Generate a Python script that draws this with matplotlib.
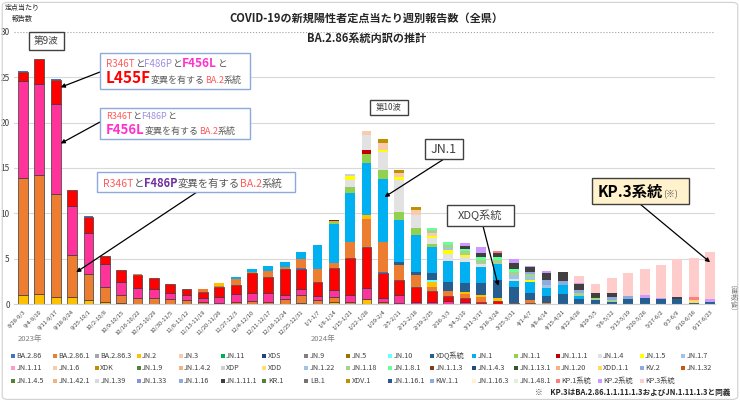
import numpy as np
import matplotlib.pyplot as plt
from matplotlib.patches import Rectangle, FancyBboxPatch

plt.rcParams['font.family'] = ['Noto Sans CJK JP', 'DejaVu Sans']

# week labels
weeks = ["8/28-9/3", "9/4-9/10", "9/11-9/17", "9/18-9/24", "9/25-10/1", "10/2-10/8",
         "10/9-10/15", "10/16-10/22", "10/23-10/29", "10/30-11/5", "11/6-11/12",
         "11/13-11/19", "11/20-11/26", "11/27-12/3", "12/4-12/10", "12/11-12/17",
         "12/18-12/24", "12/25-12/31",
         "1/1-1/7", "1/8-1/14", "1/15-1/21", "1/22-1/28", "1/29-2/4", "2/5-2/11",
         "2/12-2/18", "2/19-2/25", "2/26-3/3", "3/4-3/10", "3/11-3/17", "3/18-3/24",
         "3/25-3/31", "4/1-4/7", "4/8-4/14", "4/15-4/21", "4/22-4/28", "4/29-5/5",
         "5/6-5/12", "5/13-5/19", "5/20-5/26", "5/27-6/2", "6/3-6/9", "6/10-6/16",
         "6/17-6/23"]

# BA.2 (XBB etc.) groups, not in legend
xbb_other = [1.0, 1.1, 0.8, 0.8, 0.4, 0.2, 0.1, 0.05, 0.05, 0.05, 0, 0, 0, 0, 0, 0, 0, 0.1,
             0, 0.2, 0, 0.5, 0, 0, 0, 0, 0, 0, 0, 0, 0, 0, 0, 0, 0, 0, 0, 0, 0, 0, 0, 0, 0]
xbb_r346t = [12.9, 13.1, 11.3, 4.65, 2.87, 1.7, 0.9, 0.65, 0.57, 0.5, 0.44, 0.2, 0.1, 0.2, 0.33, 0.27, 0.5, 0.9,
             0.44, 0.6, 0.2, 0, 0.2, 0.1, 0, 0, 0, 0, 0, 0, 0, 0, 0, 0, 0, 0, 0, 0, 0, 0, 0, 0, 0]
xbb_f456l = [10.7, 10.1, 10.0, 5.35, 4.58, 2.47, 1.4, 1.02, 1.0, 0.63, 0.52, 0.46, 0.67, 0.87, 0.92, 0.98, 0.53, 0.62,
             0.44, 0.74, 0.8, 1.22, 0.42, 0.9, 0.26, 0.26, 0.37, 0.26, 0, 0, 0, 0, 0, 0, 0, 0, 0, 0, 0, 0, 0, 0, 0]
xbb_l455f = [1.0, 2.7, 2.65, 1.8, 1.75, 0.88, 1.4, 1.48, 1.2, 1.08, 0.66, 0.66, 1.1, 1.03, 2.12, 1.75, 2.82, 2.2,
             1.58, 2.39, 4.03, 4.52, 2.76, 1.64, 1.64, 1.21, 0.55, 0.36, 0.26, 0.3, 0.15, 0.1, 0.05, 0, 0, 0, 0, 0, 0, 0, 0, 0, 0]

# BA.2.86 lineages
ba286 = [0.1, 0, 0.1, 0, 0.15, 0, 0, 0, 0, 0, 0, 0, 0, 0, 0, 0, 0, 0.11,
         0, 0, 0, 0, 0.18, 0, 0, 0, 0, 0, 0, 0, 0, 0, 0, 0, 0, 0, 0, 0, 0, 0, 0, 0, 0]
ba2861 = [0, 0, 0, 0, 0, 0, 0, 0.07, 0, 0, 0, 0.33, 0.13, 0.62, 0.18, 0.63, 0.25, 1.0,
          1.36, 0.57, 1.83, 3.08, 3.3, 1.66, 1.3, 0.43, 0.55, 0.5, 0.5, 0, 0, 0.34, 0.1, 0, 0, 0, 0, 0, 0, 0, 0, 0, 0]
jn2 = [0, 0, 0, 0, 0, 0, 0, 0, 0, 0, 0, 0, 0.28, 0, 0, 0, 0, 0,
       0, 0, 0, 0.48, 0, 0, 0, 0.56, 0, 0.24, 0.23, 0.32, 0, 0, 0, 0, 0, 0, 0, 0, 0, 0, 0, 0, 0]
jn10 = [0, 0, 0, 0, 0, 0, 0, 0, 0, 0, 0, 0, 0, 0, 0, 0, 0, 0,
        0, 0, 0, 0, 0, 0, 0, 0.23, 0, 0, 0, 0, 0, 0, 0, 0, 0, 0, 0, 0, 0, 0, 0, 0, 0]
xdq = [0, 0, 0, 0, 0, 0, 0, 0, 0, 0, 0, 0, 0, 0, 0, 0, 0, 0,
       0, 0, 0, 0, 0, 0.29, 0.36, 0.74, 0.92, 0.92, 1.29, 2.02, 1.76, 0.81, 0.73,
       1.1, 0.51, 0.44, 0.26, 0.51, 0.62, 0.51, 0.51, 0.15, 0.26]
jn1 = [0, 0, 0, 0, 0, 0, 0, 0, 0, 0, 0, 0, 0, 0.22, 0.3, 0.55, 0.52, 0.84,
       2.68, 4.3, 5.33, 5.76, 6.98, 4.66, 4.04, 2.82, 2.39, 2.4, 1.83, 1.76, 0.66, 1.21, 0.85,
       1.0, 0.37, 0, 0, 0, 0, 0, 0, 0, 0]
jn11 = [0, 0, 0, 0, 0, 0, 0, 0, 0, 0, 0, 0, 0, 0, 0, 0, 0, 0,
        0, 0.3, 0.66, 0.96, 0.92, 0.92, 0.74, 0.35, 0, 0, 0, 0, 0, 0, 0, 0, 0, 0, 0, 0, 0, 0, 0, 0, 0]
jn111 = [0, 0, 0, 0, 0, 0, 0, 0, 0, 0, 0, 0, 0, 0, 0, 0, 0, 0,
         0, 0.15, 0, 0.44, 0, 0, 0, 0, 0, 0, 0, 0, 0, 0, 0, 0, 0, 0, 0, 0, 0, 0, 0, 0, 0]
jn14 = [0, 0, 0, 0, 0, 0, 0, 0, 0, 0, 0, 0, 0, 0, 0, 0, 0, 0,
        0, 0, 0.81, 1.64, 2.02, 3.49, 1.46, 0.7, 0.72, 0.52, 0.25, 0, 0.2, 0, 0, 0, 0, 0, 0, 0, 0, 0, 0, 0, 0]
jn15 = [0, 0, 0, 0, 0, 0, 0, 0, 0, 0, 0, 0, 0, 0, 0, 0, 0, 0,
        0, 0, 0.44, 0, 0.18, 0.33, 0, 0.25, 0.45, 0.15, 0, 0, 0, 0.2, 0, 0, 0, 0, 0, 0, 0, 0, 0, 0, 0]
jn16 = [0, 0, 0, 0, 0, 0, 0, 0, 0, 0, 0, 0, 0, 0, 0, 0, 0, 0,
        0, 0, 0, 0.45, 0.81, 0.5, 0.6, 0.3, 0, 0, 0, 0, 0, 0, 0, 0, 0, 0, 0, 0, 0, 0, 0, 0, 0]
xdk = [0, 0, 0, 0, 0, 0, 0, 0, 0, 0, 0, 0, 0, 0, 0, 0, 0, 0,
       0, 0, 0, 0, 0.48, 0.3, 0.32, 0, 0, 0, 0, 0, 0, 0, 0, 0, 0, 0, 0, 0, 0, 0, 0, 0, 0]
xdp = [0, 0, 0, 0, 0, 0, 0, 0, 0, 0, 0, 0, 0, 0, 0, 0, 0, 0,
       0, 0, 0.29, 0, 0, 0, 0, 0, 0, 0, 0, 0, 0, 0, 0, 0, 0, 0, 0, 0, 0, 0, 0, 0, 0]
jn1_22 = [0, 0, 0, 0, 0, 0, 0, 0, 0, 0, 0, 0, 0, 0, 0, 0, 0, 0,
          0, 0, 0, 0, 0, 0, 0, 0, 0.2, 0, 0, 0, 0.4, 0.3, 0.41, 0, 0, 0, 0, 0, 0, 0, 0, 0, 0]
jn1_18 = [0, 0, 0, 0, 0, 0, 0, 0, 0, 0, 0, 0, 0, 0, 0, 0, 0, 0,
          0, 0, 0, 0, 0, 0, 0, 0.3, 0.35, 0.45, 0.45, 0.4, 0.35, 0.3, 0, 0, 0.3, 0.22, 0.2, 0, 0, 0, 0, 0, 0]
jn1_8_1 = [0, 0, 0, 0, 0, 0, 0, 0, 0, 0, 0, 0, 0, 0, 0, 0, 0, 0,
           0, 0, 0, 0, 0, 0, 0, 0.25, 0.3, 0.23, 0.4, 0.4, 0.3, 0, 0, 0, 0, 0, 0, 0, 0, 0, 0, 0, 0]
jn1_13_1 = [0, 0, 0, 0, 0, 0, 0, 0, 0, 0, 0, 0, 0, 0, 0, 0, 0, 0,
            0, 0, 0, 0, 0, 0, 0, 0, 0, 0, 0, 0, 0, 0, 0, 0, 0, 0.15, 0, 0, 0, 0, 0, 0, 0]
xdd11 = [0, 0, 0, 0, 0, 0, 0, 0, 0, 0, 0, 0, 0, 0, 0, 0, 0, 0,
         0, 0, 0, 0, 0, 0, 0, 0, 0, 0, 0, 0, 0, 0, 0, 0, 0, 0, 0, 0, 0, 0, 0, 0.29, 0]
jn1_16 = [0, 0, 0, 0, 0, 0, 0, 0, 0, 0, 0, 0, 0, 0, 0, 0, 0, 0,
          0, 0, 0, 0, 0, 0, 0, 0, 0, 0, 0, 0, 0, 0.3, 0.5, 0.4, 0.36, 0, 0.27, 0.37, 0, 0, 0, 0, 0]
jn1_11_1 = [0, 0, 0, 0, 0, 0, 0, 0, 0, 0, 0, 0, 0, 0, 0, 0, 0, 0,
            0, 0, 0, 0, 0, 0, 0, 0, 0, 0.35, 0.44, 0.37, 0.66, 0.52, 0.81, 0.99, 0.63, 0.36, 0.44, 0, 0, 0, 0.22, 0, 0]
kp1 = [0, 0, 0, 0, 0, 0, 0, 0, 0, 0, 0, 0, 0, 0, 0, 0, 0, 0,
       0, 0, 0, 0, 0, 0, 0, 0, 0, 0, 0, 0.25, 0, 0, 0, 0.07, 0, 0, 0, 0, 0, 0, 0, 0.37, 0]
kp2 = [0, 0, 0, 0, 0, 0, 0, 0, 0, 0, 0, 0, 0, 0, 0, 0, 0, 0,
       0, 0, 0, 0, 0, 0, 0, 0, 0, 0.3, 0.59, 0, 0.51, 0.1, 0.18, 0, 0.18, 0, 0, 0, 0.37, 0.19, 0, 0, 0.25]
kp3 = [0, 0, 0, 0, 0, 0, 0, 0, 0, 0, 0, 0, 0, 0, 0, 0, 0, 0,
       0, 0, 0, 0, 0, 0, 0, 0, 0, 0, 0, 0, 0, 0, 0, 0, 0.73, 1.03, 1.69, 2.57, 2.83, 3.56, 4.19, 4.22, 5.18]

# legend (row by row) and colours
legend_names = ["BA.2.86", "BA.2.86.1", "BA.2.86.3", "JN.2", "JN.3", "JN.11", "XDS", "JN.9", "JN.5",
                "JN.10", "XDQ系統", "JN.1", "JN.1.1", "JN.1.1.1", "JN.1.4", "JN.1.5", "JN.1.7",
                "JN.1.11", "JN.1.6", "XDK", "JN.1.9", "JN.1.4.2", "XDP", "XDD", "JN.1.22", "JN.1.18",
                "JN.1.8.1", "JN.1.1.3", "JN.1.4.3", "JN.1.13.1", "JN.1.20", "XDD.1.1", "KV.2", "JN.1.32",
                "JN.1.4.5", "JN.1.42.1", "JN.1.39", "JN.1.33", "JN.1.16", "JN.1.11.1", "KR.1", "LB.1",
                "XDV.1", "JN.1.16.1", "KW.1.1", "JN.1.16.3", "JN.1.48.1", "KP.1系統", "KP.2系統", "KP.3系統"]
legend_colors = ["#4472C4", "#ED7D31", "#A5A5A5", "#FFC000", "#F8CBAD", "#00B050", "#264478", "#7F7F7F", "#997300",
                 "#66FFFF", "#255E91", "#00B0F0", "#92D050", "#C00000", "#E2E2E2", "#FFFF00", "#9DC3E6",
                 "#FF99CC", "#F8CBAD", "#BF9000", "#548235", "#F4B183", "#D0CECE", "#FFE066", "#9DC3E6", "#A9D18E",
                 "#66FF99", "#843C0C", "#1F4E79", "#375623", "#F4B183", "#FFD966", "#8FAADC", "#C55A11",
                 "#548235", "#F4B183", "#D9D9D9", "#8F8FD6", "#8FAADC", "#404040", "#548235", "#767171",
                 "#BF9000", "#2F5597", "#8FAADC", "#FFF2CC", "#E2F0D9", "#FF7C80", "#CC99FF", "#FFCCCC"]

series = {"BA.2.86": ba286, "BA.2.86.1": ba2861, "JN.2": jn2, "JN.10": jn10, "XDQ系統": xdq,
          "JN.1": jn1, "JN.1.1": jn11, "JN.1.1.1": jn111, "JN.1.4": jn14, "JN.1.5": jn15,
          "JN.1.6": jn16, "XDK": xdk, "XDP": xdp, "JN.1.22": jn1_22, "JN.1.18": jn1_18,
          "JN.1.8.1": jn1_8_1, "JN.1.13.1": jn1_13_1, "XDD.1.1": xdd11, "JN.1.16": jn1_16,
          "JN.1.11.1": jn1_11_1, "KP.1系統": kp1, "KP.2系統": kp2, "KP.3系統": kp3}

W, H = 740, 401
fig = plt.figure(figsize=(W / 100, H / 100), dpi=100)
ax = fig.add_axes([14 / W, 1 - 304 / H, (715 - 14) / W, (304 - 32) / H])


def fx(x):
    return x / W


def fy(y):
    return 1 - y / H


x = np.arange(len(weeks))
bottom = np.zeros(len(weeks))
stack = [(xbb_other, "#FFC000", True), (xbb_r346t, "#ED7D31", True),
         (xbb_f456l, "#FF3399", True), (xbb_l455f, "#FF0000", True)]
for name, color in zip(legend_names, legend_colors):
    if name in series:
        stack.append((series[name], color, False))
for vals, color, edged in stack:
    vals = np.array(vals, dtype=float)
    ec = ['#3A3A3A' if (edged and v > 0) else 'none' for v in vals]
    ax.bar(x, vals, 0.6, bottom=bottom, color=color, edgecolor=ec, linewidth=0.5, zorder=2)
    bottom += vals

ax.set_xlim(-0.55, 42.3)
ax.set_ylim(0, 30)
ax.set_yticks(range(0, 31, 5))
ax.yaxis.grid(True, color='#D9D9D9', linewidth=0.8)
ax.get_ygridlines()[-1].set_linestyle(':')
ax.get_ygridlines()[-1].set_color('#A0A0A0')
ax.set_axisbelow(True)
for s in ['top', 'right', 'left']:
    ax.spines[s].set_visible(False)
ax.spines['bottom'].set_color('#D0D0D0')
ax.tick_params(axis='y', length=0, pad=3, labelsize=6, labelcolor='#404040')
ax.set_xticks(x)
ax.set_xticklabels(weeks, rotation=45, ha='right', rotation_mode='anchor', fontsize=4.2, color='#404040')
ax.tick_params(axis='x', length=0, pad=4)

# titles
fig.text(fx(366), fy(18), "COVID-19の新規陽性者定点当たり週別報告数（全県）", ha='center', va='center',
         fontsize=8, fontweight='bold', color='#262626')
fig.text(fx(367), fy(38), "BA.2.86系統内訳の推計", ha='center', va='center',
         fontsize=8, fontweight='bold', color='#262626')
fig.text(fx(22), fy(8), "定点当たり", ha='center', va='center', fontsize=5, color='#262626')
fig.text(fx(22), fy(19), "報告数", ha='center', va='center', fontsize=5, color='#262626')
fig.text(fx(30), fy(339), "2023年", ha='center', va='center', fontsize=5.5, color='#808080')
fig.text(fx(323), fy(339), "2024年", ha='center', va='center', fontsize=5.5, color='#808080')
fig.text(fx(728), fy(302), "（速報値）", ha='center', va='center', rotation=270, fontsize=5, color='#808080')
fig.text(fx(730), fy(392), "※　KP.3はBA.2.86.1.1.11.1.3およびJN.1.11.1.3と同義", ha='right', va='center',
         fontsize=5.5, fontweight='bold', color='#262626')

# legend
for i, (name, color) in enumerate(zip(legend_names, legend_colors)):
    r, c = divmod(i, 17)
    xp = 11 + c * 41.9
    yp = 355.7 + r * 12.5
    fig.patches.append(Rectangle((fx(xp), fy(yp + 2.2)), 4 / W, 4.4 / H, transform=fig.transFigure,
                                 facecolor=color, edgecolor='none'))
    fig.text(fx(xp + 5.5), fy(yp), name, fontsize=5.2, va='center', color='#404040')


def box(x0, y0, x1, y1, ec, fc='white', lw=1.0):
    fig.patches.append(Rectangle((fx(x0), fy(y1)), (x1 - x0) / W, (y1 - y0) / H, transform=fig.transFigure,
                                 facecolor=fc, edgecolor=ec, linewidth=lw, zorder=5))


renderer = fig.canvas.get_renderer()


def rich(x0, y, parts):
    cur = x0
    for s, color, size, weight in parts:
        t = fig.text(fx(cur), fy(y), s, color=color, fontsize=size, fontweight=weight, va='baseline', zorder=6)
        cur += t.get_window_extent(renderer).width


def arrow(bar, val, xp, yp):
    ax.annotate('', xy=(bar, val), xycoords='data', xytext=(xp, H - yp), textcoords='figure pixels',
                arrowprops=dict(arrowstyle='-|>', color='black', lw=0.9, mutation_scale=6,
                                shrinkA=0, shrinkB=0), zorder=7)


SAL, GRY, LPU, MAG = '#FF5B5B', '#595959', '#9F8FE0', '#FF33CC'

box(29, 32, 64, 50, '#404040')
fig.text(fx(46.5), fy(41), "第9波", ha='center', va='center', fontsize=7, color='#404040', zorder=6)
box(370, 100, 408, 115, '#404040')
fig.text(fx(389), fy(107.5), "第10波", ha='center', va='center', fontsize=6, color='#404040', zorder=6)

box(100, 53, 250, 89, '#8EA9DB')
rich(106, 67, [("R346T", SAL, 7, 'normal'), ("と", GRY, 7, 'normal'), ("F486P", LPU, 7, 'normal'),
               ("と", GRY, 7, 'normal'), ("F456L", MAG, 8.5, 'bold'), ("と", GRY, 7, 'normal')])
rich(106, 83, [("L455F", '#FF0000', 11, 'bold'), ("変異を有する", GRY, 6.5, 'normal'),
               ("BA.2", SAL, 6.5, 'normal'), ("系統", GRY, 6.5, 'normal')])
arrow(2.3, 23.9, 100, 72)

box(100, 108, 250, 139, '#8EA9DB')
rich(106, 119, [("R346T", SAL, 6.5, 'normal'), ("と", GRY, 6.5, 'normal'), ("F486P", LPU, 6.5, 'normal'),
                ("と", GRY, 6.5, 'normal')])
rich(106, 134, [("F456L", MAG, 9.5, 'bold'), ("変異を有する", GRY, 6.5, 'normal'),
                ("BA.2", SAL, 6.5, 'normal'), ("系統", GRY, 6.5, 'normal')])
arrow(2.3, 17.7, 100, 122)

box(97, 172, 295, 192, '#8EA9DB')
rich(103, 187, [("R346T", SAL, 7.5, 'normal'), ("と", GRY, 7.5, 'normal'), ("F486P", '#7030A0', 8, 'bold'),
                ("変異を有する", GRY, 7.5, 'normal'), ("BA.2", SAL, 7.5, 'normal'), ("系統", GRY, 7.5, 'normal')])
arrow(3.25, 3.5, 197, 192)

box(425, 139, 463, 159, '#404040')
fig.text(fx(444), fy(149), "JN.1", ha='center', va='center', fontsize=9, color='#404040', zorder=6)
arrow(22.1, 11.8, 444, 159)

box(447, 205, 514, 226, '#404040')
fig.text(fx(480.5), fy(215.5), "XDQ系統", ha='center', va='center', fontsize=8, color='#404040', zorder=6)
arrow(29.05, 2.0, 483, 226)

box(592, 178, 689, 204, '#404040', fc='#FFF2CC')
rich(598, 197, [("KP.3系統", '#000000', 11, 'bold'), ("(※)", GRY, 6.5, 'normal')])
arrow(42.0, 4.6, 640, 204)

fig.patches.append(FancyBboxPatch((0.003, 0.004), 0.994, 0.99, boxstyle='round,pad=0,rounding_size=0.008',
                                  transform=fig.transFigure, fill=False, edgecolor='#D0D0D0', linewidth=0.8))

fig.savefig("out.png", dpi=100)
